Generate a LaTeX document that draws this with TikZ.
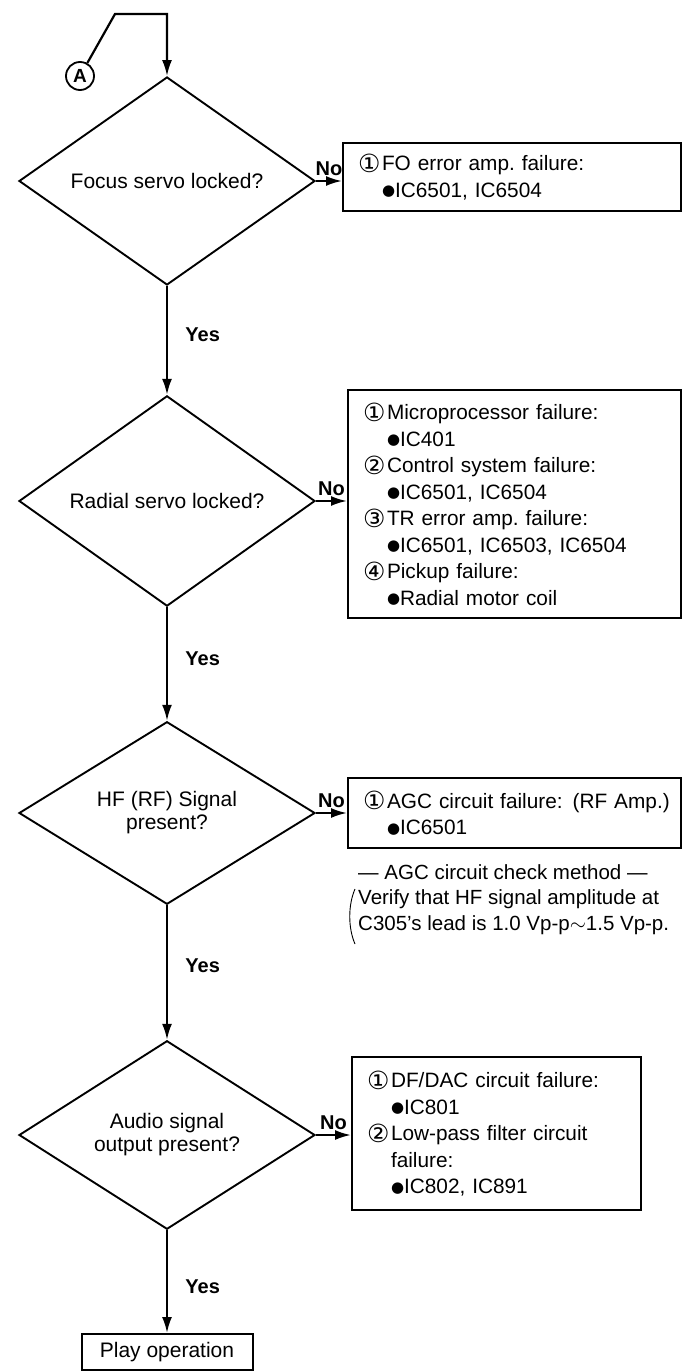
\documentclass[tikz,border=0pt]{standalone}
\usepackage{fontspec}
\setmainfont{Liberation Sans}
\newfontfamily\symfont{DejaVu Sans}
\usetikzlibrary{shapes.geometric,arrows.meta}

\newcommand{\circno}[1]{\makebox[24pt][l]{\raisebox{-1.5pt}{\symfont\fontsize{25}{25}\selectfont #1}}}
\newcommand{\dotb}{\raisebox{1.5pt}{\symfont\fontsize{15}{15}\selectfont ●}}
\newcommand{\ind}{\hspace*{24pt}}
\frenchspacing
\hfuzz=20pt

\begin{document}
\begin{tikzpicture}[x=1pt,y=-1pt,
  decision/.style={diamond,draw,line width=1.9pt,minimum width=296pt,minimum height=170pt,
    inner sep=0pt,align=center,font=\fontsize{21}{23}\selectfont},
  failbox/.style={draw,line width=2pt,align=left,inner xsep=15pt,inner ysep=0pt,
    font=\fontsize{20.8}{26.5}\selectfont},
  endbox/.style={draw,line width=2pt,minimum width=171pt,minimum height=36pt,
    font=\fontsize{21}{23}\selectfont},
  flow/.style={line width=2.2pt,-{Latex[length=16pt,width=10pt]}},
  lab/.style={font=\bfseries\fontsize{20}{20}\selectfont}]
\useasboundingbox (0,0) rectangle (682,1372);

\node[circle,draw,line width=1.8pt,minimum size=28pt,inner sep=0pt,font=\bfseries\fontsize{19}{19}\selectfont] (A) at (80,76) {A};
\coordinate (k1) at (115,14);
\coordinate (k2) at (167,14);

\node[decision] (d1) at (167,181) {Focus servo locked?};
\node[decision] (d2) at (167,501) {Radial servo locked?};
\node[decision] (d3) at (167,813) {HF (RF) Signal\\present?};
\node[decision] (d4) at (167,1135) {Audio signal\\output present?};
\node[endbox] (play) at (167,1352) {Play operation};

\node[failbox,text width=308pt,minimum height=68pt] (b1) at (512,177)
  {\circno{①}FO error amp. failure:\\\ind\dotb IC6501, IC6504};
\node[failbox,text width=303pt,minimum height=228pt] (b2) at (514.5,504)
  {\circno{①}Microprocessor failure:\\\ind\dotb IC401\\
   \circno{②}Control system failure:\\\ind\dotb IC6501, IC6504\\
   \circno{③}TR error amp. failure:\\\ind\dotb IC6501, IC6503, IC6504\\
   \circno{④}Pickup failure:\\\ind\dotb Radial motor coil};
\node[failbox,text width=303pt,minimum height=70pt] (b3) at (514.5,813)
  {\mbox{\circno{①}AGC circuit failure:\hspace{10pt}(RF Amp.)}\\\ind\dotb IC6501};
\node[failbox,text width=259pt,minimum height=153pt] (b4) at (496.5,1133.5)
  {\circno{①}DF/DAC circuit failure:\\\ind\dotb IC801\\
   \circno{②}Low-pass filter circuit\\\ind failure:\\\ind\dotb IC802, IC891};
\node[anchor=north west,align=left,inner sep=0pt,font=\fontsize{20.5}{25.5}\selectfont] (note) at (358,864)
  {— AGC circuit check method —\\Verify that HF signal amplitude at\\C305’s lead is 1.0 Vp-p$\sim$1.5 Vp-p.};
\draw[line width=0.9pt] (355,889) .. controls (348,905) and (348,928) .. (355,944);

\draw[flow] (A) -- (k1) -- (k2) -- (d1.north);
\draw[flow] (d1.south) -- node[lab,right=14pt,pos=0.45] {Yes} (d2.north);
\draw[flow] (d2.south) -- node[lab,right=14pt,pos=0.45] {Yes} (d3.north);
\draw[flow] (d3.south) -- node[lab,right=14pt,pos=0.45] {Yes} (d4.north);
\draw[flow] (d4.south) -- node[lab,right=14pt,pos=0.55] {Yes} (play.north);

\draw[flow] (d1.east) -- node[lab,above=1pt] {No} (d1.east -| b1.west);
\draw[flow] (d2.east) -- node[lab,above=1pt] {No} (d2.east -| b2.west);
\draw[flow] (d3.east) -- node[lab,above=1pt] {No} (d3.east -| b3.west);
\draw[flow] (d4.east) -- node[lab,above=1pt] {No} (d4.east -| b4.west);
\end{tikzpicture}
\end{document}
